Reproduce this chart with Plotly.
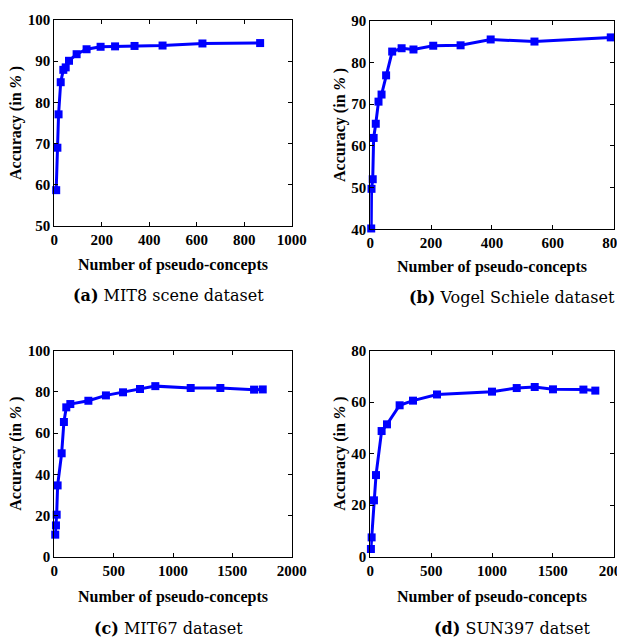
import plotly.graph_objects as go

# Panel (a) MIT8 scene dataset
a_x = [8, 13, 18, 27, 38, 48, 62, 94, 136, 195, 256, 338, 456, 624, 867]
a_y = [58.7, 69.0, 77.1, 84.9, 87.9, 88.5, 90.1, 91.7, 92.9, 93.5, 93.6, 93.7, 93.8, 94.3, 94.4]

# Panel (b) Vogel Schiele dataset
b_x = [3, 4, 8, 11, 18, 27, 37, 52, 72, 103, 142, 207, 297, 396, 540, 791]
b_y = [40.2, 49.7, 52.0, 61.9, 65.3, 70.6, 72.3, 76.9, 82.6, 83.4, 83.1, 84.0, 84.1, 85.5, 85.0, 86.0]

# Panel (c) MIT67 dataset
c_x = [8, 14, 20, 28, 62, 81, 101, 135, 287, 435, 579, 722, 851, 1149, 1399, 1683, 1756]
c_y = [10.7, 15.2, 20.4, 34.6, 50.2, 65.4, 72.5, 74.1, 75.7, 78.3, 79.8, 81.4, 82.8, 81.9, 81.9, 81.1, 81.2]

# Panel (d) SUN397 datset
d_x = [5, 11, 30, 47, 93, 137, 241, 351, 548, 1000, 1203, 1351, 1501, 1751, 1849]
d_y = [3.0, 7.5, 21.9, 31.7, 48.8, 51.4, 58.8, 60.6, 63.0, 64.1, 65.5, 65.9, 65.0, 64.9, 64.5]

panels = [
    dict(x=a_x, y=a_y, xr=[0, 1000], xt=[0, 200, 400, 600, 800, 1000], yr=[50, 100], yt=[50, 60, 70, 80, 90, 100],
         label="(a)", caption="MIT8 scene dataset"),
    dict(x=b_x, y=b_y, xr=[0, 800], xt=[0, 200, 400, 600, 800], yr=[40, 90], yt=[40, 50, 60, 70, 80, 90],
         label="(b)", caption="Vogel Schiele dataset"),
    dict(x=c_x, y=c_y, xr=[0, 2000], xt=[0, 500, 1000, 1500, 2000], yr=[0, 100], yt=[0, 20, 40, 60, 80, 100],
         label="(c)", caption="MIT67 dataset"),
    dict(x=d_x, y=d_y, xr=[0, 2000], xt=[0, 500, 1000, 1500, 2000], yr=[0, 80], yt=[0, 20, 40, 60, 80],
         label="(d)", caption="SUN397 datset"),
]

OFF = 8  # page body margin
W, H = 625 - OFF, 638 - OFF


def px(x):
    return (x - OFF) / W


def py(y):
    return 1 - (y - OFF) / H


# pixel boxes in the 625x638 window (left, right, top, bottom)
boxes = [(54.3, 291.7, 20, 226), (370.3, 613.5, 20.7, 229.3), (54.3, 291.7, 350.7, 556.7), (370.3, 613.7, 350.7, 556.7)]
xtitle_y = [265, 267, 597, 597]
ytitle_x = [16, 340, 16, 340]
cap_y = [296, 298, 628, 628]
cap_x = [168, 512, 168, 512]

serif = "Liberation Serif"
capfont = "DejaVu Serif"
fig = go.Figure()
layout = dict(width=W, height=H, margin=dict(l=0, r=0, t=0, b=0, autoexpand=False), paper_bgcolor="white",
              plot_bgcolor="white", showlegend=False, annotations=[])

for i, (p, bx) in enumerate(zip(panels, boxes)):
    n = "" if i == 0 else str(i + 1)
    fig.add_trace(go.Scatter(x=p["x"], y=p["y"], mode="lines+markers", xaxis="x" + n, yaxis="y" + n,
                             line=dict(color="#0000FF", width=3),
                             marker=dict(symbol="square", size=8, color="#0000FF"), cliponaxis=False))
    l, r, t, b = bx
    common = dict(showline=True, linecolor="black", linewidth=1, mirror="ticks", ticks="inside",
                  ticklen=4, tickcolor="black", showgrid=False, zeroline=False, automargin=False,
                  ticklabeloverflow="allow",
                  tickfont=dict(family=serif, size=15, color="black", weight="bold"))
    layout["xaxis" + n] = dict(domain=[px(l), px(r)], range=p["xr"], tickvals=p["xt"],
                               anchor="y" + n, **common)
    layout["yaxis" + n] = dict(domain=[py(b), py(t)], range=p["yr"], tickvals=p["yt"],
                               anchor="x" + n, **common)
    cx = (l + r) / 2
    layout["annotations"].append(dict(text="<b>Number of pseudo-concepts</b>", x=px(cx), y=py(xtitle_y[i]),
                                      xref="paper", yref="paper", showarrow=False,
                                      font=dict(family=serif, size=16, color="black"),
                                      xanchor="center", yanchor="middle"))
    layout["annotations"].append(dict(text="<b>Accuracy (in <i>%</i> )</b>", x=px(ytitle_x[i]), y=py((t + b) / 2),
                                      xref="paper", yref="paper", showarrow=False, textangle=-90,
                                      font=dict(family=serif, size=16, color="black"),
                                      xanchor="center", yanchor="middle"))
    layout["annotations"].append(dict(text="<b>" + p["label"] + "</b> " + p["caption"], x=px(cap_x[i]), y=py(cap_y[i]),
                                      xref="paper", yref="paper", showarrow=False,
                                      font=dict(family=capfont, size=16, color="black"),
                                      xanchor="center", yanchor="middle"))

fig.update_layout(**layout)
fig.write_html("out.html")
